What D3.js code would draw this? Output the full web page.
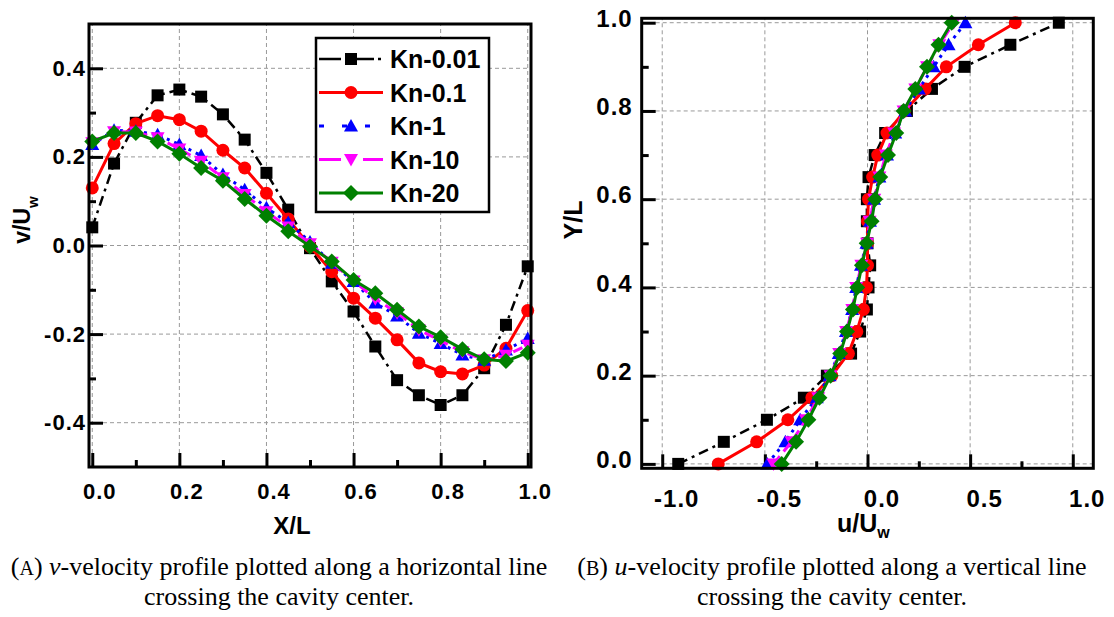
<!DOCTYPE html>
<html>
<head>
<meta charset="utf-8">
<script src="https://cdn.jsdelivr.net/npm/d3@7.9.0/dist/d3.min.js"></script>
<style>
  body { margin: 0; background: #fff; }
  svg { display: block; }
</style>
</head>
<body>
<svg id="chart" width="1114" height="617"></svg>
<script>
// series names and legend
const seriesNames = ['Kn-0.01', 'Kn-0.1', 'Kn-1', 'Kn-10', 'Kn-20'];

// panel A: v-velocity along horizontal line
const xPos = [0, 0.05, 0.1, 0.15, 0.2, 0.25, 0.3, 0.35, 0.4, 0.45, 0.5,
              0.55, 0.6, 0.65, 0.7, 0.75, 0.8, 0.85, 0.9, 0.95, 1.0];
const vKn001 = [0.041, 0.185, 0.277, 0.339, 0.352, 0.336, 0.296, 0.239, 0.164, 0.081, -0.006,
                -0.081, -0.149, -0.228, -0.304, -0.338, -0.36, -0.338, -0.277, -0.179, -0.047];
const vKn01 = [0.13, 0.23, 0.275, 0.293, 0.284, 0.258, 0.215, 0.175, 0.118, 0.06, -0.002,
               -0.059, -0.119, -0.164, -0.213, -0.265, -0.285, -0.29, -0.27, -0.232, -0.147];
const vKn1 = [0.228, 0.26, 0.258, 0.25, 0.228, 0.203, 0.16, 0.126, 0.085, 0.052, 0.008,
              -0.04, -0.081, -0.13, -0.159, -0.198, -0.221, -0.247, -0.259, -0.236, -0.21];
const vKn10 = [0.232, 0.257, 0.256, 0.243, 0.218, 0.19, 0.153, 0.115, 0.076, 0.042, 0.004,
               -0.038, -0.08, -0.12, -0.152, -0.19, -0.215, -0.24, -0.258, -0.248, -0.225];
const vKn20 = [0.235, 0.254, 0.254, 0.235, 0.207, 0.175, 0.146, 0.105, 0.067, 0.032, -0.002,
               -0.036, -0.078, -0.108, -0.145, -0.183, -0.207, -0.234, -0.257, -0.261, -0.242];

// panel B: u-velocity along vertical line
const yPos = [0, 0.05, 0.1, 0.15, 0.2, 0.25, 0.3, 0.35, 0.4, 0.45, 0.5,
              0.55, 0.6, 0.65, 0.7, 0.75, 0.8, 0.85, 0.9, 0.95, 1.0];
const uKn001 = [-0.922, -0.70, -0.49, -0.31, -0.198, -0.08, -0.036, -0.003, 0.005, 0.013, 0.0,
                -0.003, -0.003, 0.005, 0.035, 0.086, 0.192, 0.314, 0.473, 0.696, 0.932];
const uKn01 = [-0.727, -0.54, -0.388, -0.271, -0.174, -0.093, -0.052, -0.02, -0.005, 0.0, 0.0,
               0.0, 0.005, 0.025, 0.05, 0.095, 0.18, 0.281, 0.384, 0.54, 0.72];
const uKn1 = [-0.488, -0.40, -0.328, -0.247, -0.185, -0.14, -0.105, -0.075, -0.055, -0.032, -0.005,
              0.012, 0.032, 0.058, 0.095, 0.135, 0.184, 0.25, 0.322, 0.395, 0.477];
const uKn10 = [-0.458, -0.37, -0.3, -0.24, -0.18, -0.138, -0.104, -0.074, -0.055, -0.03, -0.002,
               0.01, 0.033, 0.058, 0.09, 0.13, 0.176, 0.233, 0.29, 0.35, 0.42];
const uKn20 = [-0.418, -0.348, -0.288, -0.234, -0.18, -0.133, -0.1, -0.071, -0.05, -0.027, -0.004,
               0.02, 0.037, 0.062, 0.1, 0.14, 0.176, 0.233, 0.29, 0.346, 0.41];

// ticks
const aXTicks = [0, 0.2, 0.4, 0.6, 0.8, 1.0];
const aXLabels = ['0.0', '0.2', '0.4', '0.6', '0.8', '1.0'];
const aXMinor = [0.1, 0.3, 0.5, 0.7, 0.9];
const aYTicks = [-0.4, -0.2, 0, 0.2, 0.4];
const aYLabels = ['-0.4', '-0.2', '0.0', '0.2', '0.4'];
const aYMinor = [-0.3, -0.1, 0.1, 0.3];

const bXTicks = [-1.0, -0.5, 0, 0.5, 1.0];
const bXLabels = ['-1.0', '-0.5', '0.0', '0.5', '1.0'];
const bXMinor = [-0.75, -0.25, 0.25, 0.75];
const bYTicks = [0, 0.2, 0.4, 0.6, 0.8, 1.0];
const bYLabels = ['0.0', '0.2', '0.4', '0.6', '0.8', '1.0'];
const bYMinor = [0.1, 0.3, 0.5, 0.7, 0.9];

// marker shapes
const square = { draw(c) { c.moveTo(-6, -6); c.lineTo(6, -6); c.lineTo(6, 6); c.lineTo(-6, 6); c.closePath(); } };
const circle = { draw(c) { c.moveTo(6.5, 0); c.arc(0, 0, 6.5, 0, 2 * Math.PI); } };
const triUp = { draw(c) { c.moveTo(0, -7); c.lineTo(7, 5.5); c.lineTo(-7, 5.5); c.closePath(); } };
const triDown = { draw(c) { c.moveTo(0, 7); c.lineTo(7, -5.5); c.lineTo(-7, -5.5); c.closePath(); } };
const diamond = { draw(c) { c.moveTo(0, -8); c.lineTo(8, 0); c.lineTo(0, 8); c.lineTo(-8, 0); c.closePath(); } };

const styles = [
  { color: '#000000', shape: square, width: 2.5, dash: '10,5,3,5', legendDash: '22,4,3,4' },
  { color: '#ff0000', shape: circle, width: 3, dash: null, legendDash: null },
  { color: '#0000ff', shape: triUp, width: 3, dash: '3,5', legendDash: '5,18' },
  { color: '#ff00ff', shape: triDown, width: 3, dash: '10,6', legendDash: '22,22' },
  { color: '#008000', shape: diamond, width: 3, dash: null, legendDash: null },
];

const svg = d3.select('#chart');
svg.append('rect').attr('width', 1114).attr('height', 617).attr('fill', '#fff');

const sans = "'Liberation Sans', Arial, sans-serif";
const serif = "'Liberation Serif', 'Times New Roman', serif";

function drawPanel(p) {
  const g = svg.append('g');
  const [x0, x1] = p.x.range();
  const [y0, y1] = p.y.range(); // y0 bottom, y1 top

  // grid
  g.selectAll('.gx').data(p.xTicks).join('line')
    .attr('x1', d => p.x(d)).attr('x2', d => p.x(d))
    .attr('y1', y0).attr('y2', y1)
    .attr('stroke', '#999').attr('stroke-width', 1).attr('stroke-dasharray', '4,3');
  g.selectAll('.gy').data(p.yTicks).join('line')
    .attr('class', 'gy')
    .attr('x1', x0).attr('x2', x1)
    .attr('y1', d => p.y(d)).attr('y2', d => p.y(d))
    .attr('stroke', '#999').attr('stroke-width', 1).attr('stroke-dasharray', '4,3');

  // axes with inward ticks
  const xAxis = g.append('g').attr('transform', `translate(0,${y0})`)
    .call(d3.axisBottom(p.x).tickValues(p.xTicks).tickSize(-14).tickPadding(p.xPad)
      .tickFormat((d, i) => p.xLabels[i]));
  const xMinor = g.append('g').attr('transform', `translate(0,${y0})`)
    .call(d3.axisBottom(p.x).tickValues(p.xMinor).tickSize(-7).tickFormat(''));
  const yAxis = g.append('g').attr('transform', `translate(${x0},0)`)
    .call(d3.axisLeft(p.y).tickValues(p.yTicks).tickSize(-14).tickPadding(p.yPad)
      .tickFormat((d, i) => p.yLabels[i]));
  const yMinor = g.append('g').attr('transform', `translate(${x0},0)`)
    .call(d3.axisLeft(p.y).tickValues(p.yMinor).tickSize(-7).tickFormat(''));

  [xAxis, xMinor, yAxis, yMinor].forEach(a => {
    a.select('.domain').remove();
    a.selectAll('line').attr('stroke', '#000').attr('stroke-width', 3);
    a.selectAll('text').attr('fill', '#000')
      .style('font-family', sans).style('font-weight', 'bold')
      .style('font-size', p.tickFont + 'px').style('letter-spacing', '1px');
  });
  xAxis.selectAll('text').attr('dx', p.xLabelDx);
  yAxis.selectAll('text').attr('dy', p.yLabelDy);

  // data
  const line = d3.line().x(d => p.x(d[0])).y(d => p.y(d[1]));
  p.series.forEach((pts, i) => {
    const s = styles[i];
    g.append('path').datum(pts)
      .attr('d', line)
      .attr('fill', 'none')
      .attr('stroke', s.color)
      .attr('stroke-width', s.width)
      .attr('stroke-dasharray', s.dash);
    g.selectAll('.m' + i).data(pts).join('path')
      .attr('class', 'm' + i)
      .attr('transform', d => `translate(${p.x(d[0])},${p.y(d[1])})`)
      .attr('d', d3.symbol().type(s.shape))
      .attr('fill', s.color);
  });

  // frame
  g.append('rect')
    .attr('x', x0).attr('y', y1)
    .attr('width', x1 - x0).attr('height', y0 - y1)
    .attr('fill', 'none').attr('stroke', '#000').attr('stroke-width', 3);
  return g;
}

// panel A
const xA = d3.scaleLinear().domain([-0.0075, 1.0075]).range([89, 531]);
const yA = d3.scaleLinear().domain([-0.5, 0.5]).range([467, 24]);
const vSeries = [vKn001, vKn01, vKn1, vKn10, vKn20].map(v => xPos.map((x, i) => [x, v[i]]));
const gA = drawPanel({
  x: xA, y: yA,
  xTicks: aXTicks, xLabels: aXLabels, xMinor: aXMinor,
  yTicks: aYTicks, yLabels: aYLabels, yMinor: aYMinor,
  xPad: 16, yPad: 3, xLabelDx: 7, yLabelDy: '0.32em', tickFont: 22,
  series: vSeries,
});

// legend
const leg = gA.append('g');
leg.append('rect').attr('x', 316).attr('y', 38).attr('width', 173).attr('height', 174)
  .attr('fill', '#fff').attr('stroke', '#000').attr('stroke-width', 2.5);
seriesNames.forEach((name, i) => {
  const s = styles[i];
  const ly = 59 + i * 33.5;
  leg.append('line').attr('x1', 319).attr('x2', 383).attr('y1', ly).attr('y2', ly)
    .attr('stroke', s.color).attr('stroke-width', s.width)
    .attr('stroke-dasharray', s.legendDash);
  leg.append('path').attr('transform', `translate(351,${ly})`)
    .attr('d', d3.symbol().type(s.shape)).attr('fill', s.color);
  leg.append('text').attr('x', 390).attr('y', ly + 9)
    .style('font-family', sans).style('font-weight', 'bold').style('font-size', '25px')
    .text(name);
});

// axis titles A
svg.append('text').attr('x', 292).attr('y', 534).attr('text-anchor', 'middle')
  .style('font-family', sans).style('font-weight', 'bold').style('font-size', '24px')
  .text('X/L');
const vt = svg.append('text').attr('transform', 'translate(30,220) rotate(-90)')
  .attr('text-anchor', 'middle')
  .style('font-family', sans).style('font-weight', 'bold').style('font-size', '23px');
vt.append('tspan').text('v/U');
vt.append('tspan').attr('dy', 8).style('font-size', '15px').text('w');

// panel B
const xB = d3.scaleLinear().domain([-1.1, 1.1]).range([641.7, 1093.3]);
const yB = d3.scaleLinear().domain([-0.01, 1.01]).range([468.3, 18.3]);
const uSeries = [uKn001, uKn01, uKn1, uKn10, uKn20].map(u => yPos.map((y, i) => [u[i], y]));
drawPanel({
  x: xB, y: yB,
  xTicks: bXTicks, xLabels: bXLabels, xMinor: bXMinor,
  yTicks: bYTicks, yLabels: bYLabels, yMinor: bYMinor,
  xPad: 22, yPad: 9, xLabelDx: 14, yLabelDy: '0.15em', tickFont: 24,
  series: uSeries,
});

// axis titles B
const ut = svg.append('text').attr('x', 837).attr('y', 532)
  .style('font-family', sans).style('font-weight', 'bold').style('font-size', '25px');
ut.append('tspan').text('u/U');
ut.append('tspan').attr('dy', 6).style('font-size', '16px').text('w');
svg.append('text').attr('transform', 'translate(582,220) rotate(-90)')
  .attr('text-anchor', 'middle')
  .style('font-family', sans).style('font-weight', 'bold').style('font-size', '25px')
  .text('Y/L');

// captions
function caption(cx, letter, sym, rest) {
  const t1 = svg.append('text').attr('x', cx).attr('y', 575).attr('text-anchor', 'middle')
    .style('font-family', serif).style('font-size', '26px');
  t1.append('tspan').text('(');
  t1.append('tspan').style('font-size', '20px').text(letter);
  t1.append('tspan').text(') ');
  t1.append('tspan').style('font-style', 'italic').text(sym);
  t1.append('tspan').text(rest);
  svg.append('text').attr('x', cx).attr('y', 605).attr('text-anchor', 'middle')
    .style('font-family', serif).style('font-size', '26px')
    .text('crossing the cavity center.');
}
caption(279, 'A', 'v', '-velocity profile plotted along a horizontal line');
caption(832, 'B', 'u', '-velocity profile plotted along a vertical line');
</script>
</body>
</html>
